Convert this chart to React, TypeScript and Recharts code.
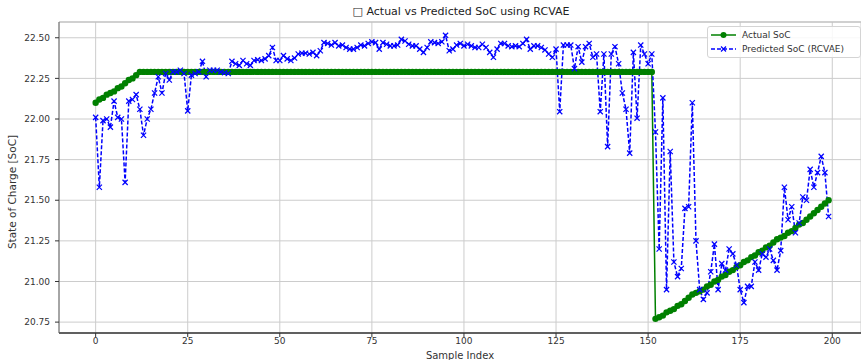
import { CartesianGrid, Line, LineChart, ReferenceLine, XAxis, YAxis } from 'recharts'

const FONT = '"DejaVu Sans", sans-serif'

const X_TICKS = [0, 25, 50, 75, 100, 125, 150, 175, 200]
const Y_TICKS = [20.75, 21.0, 21.25, 21.5, 21.75, 22.0, 22.25, 22.5]

// Actual SoC: short ramp, long hold, sharp drop then steady recovery
const ACTUAL_RAMP = [22.10, 22.12, 22.13, 22.15, 22.16, 22.17, 22.19, 22.20, 22.22, 22.24, 22.25, 22.27, 22.29]
const ACTUAL_HOLD = [
  22.29, 22.29, 22.29, 22.29, 22.29, 22.29, 22.29, 22.29, 22.29, 22.29, 22.29, 22.29, 22.29, 22.29, 22.29, 22.29, 22.29, 22.29, 22.29, 22.29,
  22.29, 22.29, 22.29, 22.29, 22.29, 22.29, 22.29, 22.29, 22.29, 22.29, 22.29, 22.29, 22.29, 22.29, 22.29, 22.29, 22.29, 22.29, 22.29, 22.29,
  22.29, 22.29, 22.29, 22.29, 22.29, 22.29, 22.29, 22.29, 22.29, 22.29, 22.29, 22.29, 22.29, 22.29, 22.29, 22.29, 22.29, 22.29, 22.29, 22.29,
  22.29, 22.29, 22.29, 22.29, 22.29, 22.29, 22.29, 22.29, 22.29, 22.29, 22.29, 22.29, 22.29, 22.29, 22.29, 22.29, 22.29, 22.29, 22.29, 22.29,
  22.29, 22.29, 22.29, 22.29, 22.29, 22.29, 22.29, 22.29, 22.29, 22.29, 22.29, 22.29, 22.29, 22.29, 22.29, 22.29, 22.29, 22.29, 22.29, 22.29,
  22.29, 22.29, 22.29, 22.29, 22.29, 22.29, 22.29, 22.29, 22.29, 22.29, 22.29, 22.29, 22.29, 22.29, 22.29, 22.29, 22.29, 22.29, 22.29, 22.29,
  22.29, 22.29, 22.29, 22.29, 22.29, 22.29, 22.29, 22.29, 22.29, 22.29, 22.29, 22.29, 22.29, 22.29, 22.29, 22.29, 22.29, 22.29, 22.29,
]
const ACTUAL_RECOVERY = [
  20.77, 20.78, 20.79, 20.81, 20.82, 20.83, 20.85, 20.86, 20.88, 20.90,
  20.92, 20.93, 20.94, 20.95, 20.97, 20.98, 21.00, 21.01, 21.03, 21.04,
  21.06, 21.07, 21.09, 21.10, 21.12, 21.13, 21.15, 21.16, 21.18, 21.19,
  21.21, 21.22, 21.24, 21.26, 21.27, 21.28, 21.30, 21.31, 21.33, 21.35,
  21.36, 21.38, 21.40, 21.42, 21.44, 21.46, 21.48, 21.50,
]
const ACTUAL = [...ACTUAL_RAMP, ...ACTUAL_HOLD, ...ACTUAL_RECOVERY]

// Predicted SoC (RCVAE), samples 0..199
const PREDICTED = [
  22.01, 21.58, 21.99, 22.00, 21.95, 22.11, 22.01, 22.00, 21.61, 22.11,
  22.12, 22.15, 22.06, 21.90, 22.00, 22.06, 22.16, 22.26, 22.16, 22.28,
  22.24, 22.29, 22.29, 22.30, 22.28, 22.05, 22.27, 22.28, 22.29, 22.355,
  22.26, 22.30, 22.30, 22.30, 22.29, 22.285, 22.28, 22.355, 22.34, 22.33,
  22.36, 22.34, 22.33, 22.36, 22.365, 22.36, 22.37, 22.39, 22.44, 22.36,
  22.36, 22.39, 22.37, 22.36, 22.375, 22.40, 22.405, 22.405, 22.40, 22.41,
  22.39, 22.42, 22.47, 22.465, 22.455, 22.47, 22.45, 22.455, 22.44, 22.43,
  22.43, 22.44, 22.455, 22.45, 22.465, 22.475, 22.47, 22.43, 22.47, 22.46,
  22.45, 22.45, 22.455, 22.49, 22.48, 22.46, 22.45, 22.45, 22.43, 22.41,
  22.44, 22.475, 22.47, 22.465, 22.475, 22.515, 22.42, 22.43, 22.455, 22.465,
  22.45, 22.46, 22.45, 22.44, 22.44, 22.46, 22.44, 22.41, 22.38, 22.43,
  22.465, 22.465, 22.45, 22.445, 22.45, 22.445, 22.465, 22.49, 22.43, 22.45,
  22.45, 22.44, 22.425, 22.40, 22.38, 22.43, 22.045, 22.455, 22.455, 22.455,
  22.31, 22.445, 22.35, 22.445, 22.465, 22.38, 22.40, 22.045, 22.40, 21.83,
  22.40, 22.445, 22.34, 22.16, 22.06, 21.79, 22.41, 22.005, 22.455, 22.40,
  22.34, 22.40, 21.92, 21.20, 22.13, 20.95, 21.80, 21.12, 21.03, 21.08,
  21.45, 21.46, 22.10, 21.25, 20.95, 20.89, 20.93, 21.06, 21.23, 20.95,
  21.11, 21.07, 21.20, 21.17, 21.10, 20.95, 20.87, 20.97, 20.97, 21.12,
  21.07, 21.17, 21.15, 21.20, 21.13, 21.07, 21.19, 21.58, 21.38, 21.46,
  21.30, 21.36, 21.52, 21.50, 21.69, 21.58, 21.67, 21.77, 21.67, 21.40,
]

const data = PREDICTED.map((p, i) => ({ index: i, actual: ACTUAL[i], predicted: p }))

// matplotlib-style 'x' marker
function CrossDot(props: any) {
  const { cx, cy, index } = props
  if (cx == null || cy == null) return null
  const s = 2.6
  return (
    <path
      key={index}
      d={`M${cx - s},${cy - s}L${cx + s},${cy + s}M${cx - s},${cy + s}L${cx + s},${cy - s}`}
      stroke="#0000ff"
      strokeWidth={1.2}
      fill="none"
    />
  )
}

function LegendBox() {
  const row = { display: 'flex', alignItems: 'center', height: 14 }
  return (
    <div
      style={{
        position: 'absolute',
        left: 707,
        top: 26,
        width: 152,
        padding: '1px 0',
        border: '1px solid #d4d4d4',
        borderRadius: 3,
        background: 'rgba(255,255,255,0.85)',
        fontSize: 9,
        color: '#333',
        fontFamily: FONT,
      }}
    >
      <div style={row}>
        <svg width={32} height={10}>
          <line x1={3} y1={5} x2={28} y2={5} stroke="#008000" strokeWidth={1.5} />
          <circle cx={15.5} cy={5} r={3} fill="#008000" />
        </svg>
        <span style={{ marginLeft: 2 }}>Actual SoC</span>
      </div>
      <div style={row}>
        <svg width={32} height={10}>
          <line x1={3} y1={5} x2={28} y2={5} stroke="#0000ff" strokeWidth={1.5} strokeDasharray="4 2" />
          <path d="M13,2.5L18,7.5M13,7.5L18,2.5" stroke="#0000ff" strokeWidth={1.2} />
        </svg>
        <span style={{ marginLeft: 2 }}>Predicted SoC (RCVAE)</span>
      </div>
    </div>
  )
}

export default function App() {
  const tick = { fontSize: 9, fill: '#333', fontFamily: FONT }
  return (
    <div
      style={{
        position: 'absolute',
        left: 0,
        top: 0,
        width: 861,
        height: 360,
        overflow: 'hidden',
        background: '#fff',
        fontFamily: FONT,
      }}
    >
      <div
        style={{
          position: 'absolute',
          left: 0,
          top: 5,
          width: 922,
          textAlign: 'center',
          fontSize: 11,
          color: '#222',
          whiteSpace: 'nowrap',
        }}
      >
        □ Actual vs Predicted SoC using RCVAE
      </div>
      <div
        style={{
          position: 'absolute',
          left: 12,
          top: 192,
          transform: 'translate(-50%, -50%) rotate(-90deg)',
          whiteSpace: 'nowrap',
          fontSize: 10.5,
          color: '#333',
        }}
      >
        State of Charge [SoC]
      </div>
      <LineChart width={861} height={360} data={data} margin={{ top: 22, right: 0, bottom: 0, left: 0 }}>
        <CartesianGrid stroke="#cccccc" strokeWidth={1} />
        <XAxis
          type="number"
          dataKey="index"
          domain={[-9.95, 207.8]}
          ticks={X_TICKS}
          allowDataOverflow
          height={27}
          tick={tick}
          tickSize={4}
          tickMargin={1}
          axisLine={{ stroke: '#333', strokeWidth: 1.5 }}
          tickLine={{ stroke: '#333' }}
          label={{ value: 'Sample Index', position: 'insideBottom', offset: 1, fontSize: 10, fill: '#333', fontFamily: FONT }}
        />
        <YAxis
          type="number"
          domain={[20.683, 22.597]}
          ticks={Y_TICKS}
          allowDataOverflow
          width={59}
          tick={tick}
          tickSize={4}
          tickMargin={5}
          tickFormatter={(v: number) => v.toFixed(2)}
          axisLine={{ stroke: '#666' }}
          tickLine={{ stroke: '#333' }}
        />
        <ReferenceLine y={22.597} stroke="#bbbbbb" />
        <Line
          type="linear"
          dataKey="actual"
          stroke="#008000"
          strokeWidth={1.5}
          dot={{ r: 3.2, fill: '#008000', stroke: '#008000', strokeWidth: 0 }}
          activeDot={false}
          isAnimationActive={false}
        />
        <Line
          type="linear"
          dataKey="predicted"
          stroke="#0000ff"
          strokeWidth={1.5}
          strokeDasharray="4 2"
          dot={<CrossDot />}
          activeDot={false}
          isAnimationActive={false}
        />
      </LineChart>
      <LegendBox />
    </div>
  )
}
